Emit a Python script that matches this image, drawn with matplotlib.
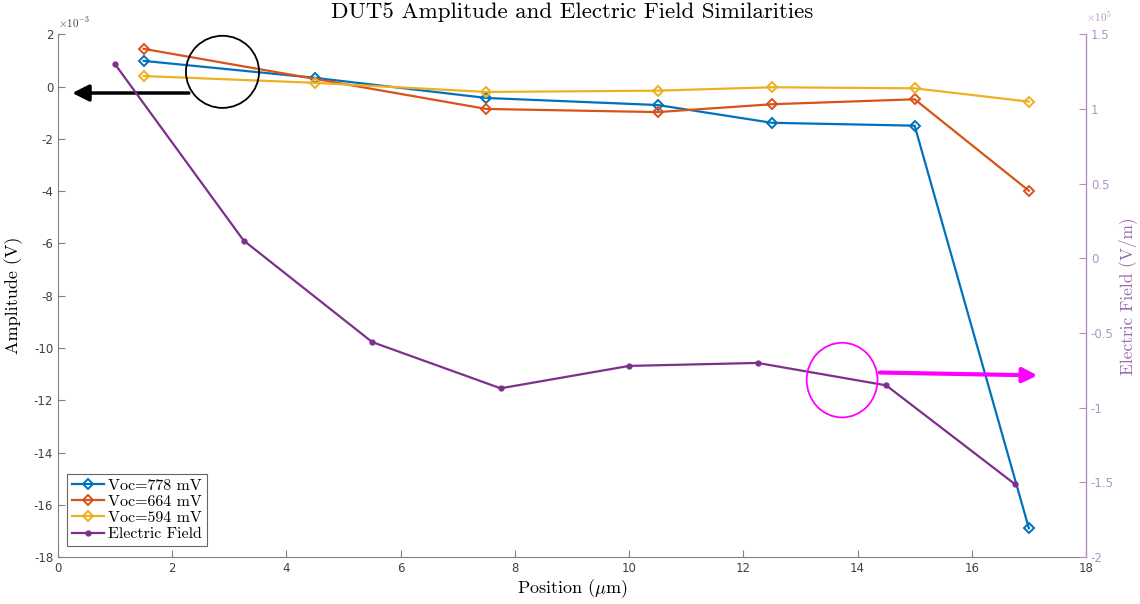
import numpy as np
import matplotlib.pyplot as plt
from matplotlib.patches import Ellipse

plt.rcParams['mathtext.fontset'] = 'cm'
plt.rcParams['axes.formatter.use_mathtext'] = True

# Amplitude (x1e-3 V)
pos_amp = [1.5, 4.5, 7.5, 10.5, 12.5, 15, 17]
amp_778 = [0.99, 0.34, -0.43, -0.70, -1.38, -1.49, -16.9]
pos_664 = [1.5, 7.5, 10.5, 12.5, 15, 17]
amp_664 = [1.45, -0.85, -0.97, -0.67, -0.48, -3.98]
amp_594 = [0.41, 0.15, -0.20, -0.15, -0.02, -0.06, -0.57]

# Electric field (x1e5 V/m)
pos_ef = [1.0, 3.25, 5.5, 7.75, 10.0, 12.25, 14.5, 16.75]
ef = [1.30, 0.12, -0.56, -0.87, -0.72, -0.70, -0.85, -1.51]

c_blue = '#0072BD'
c_orange = '#D95319'
c_yellow = '#EDB120'
c_purple = '#7E2F8E'
c_axis = '#808080'
c_raxis = '#B490C8'
serif = 'cmr10'

fig = plt.figure(figsize=(11.4, 6.04), dpi=100)
ax = fig.add_axes([0.0509, 0.0778, 0.9017, 0.8651])
ax2 = ax.twinx()

l1, = ax.plot(pos_amp, amp_778, '-D', color=c_blue, mfc='none', ms=5.5, mew=1.4, lw=1.6, label='Voc=778 mV')
l2, = ax.plot(pos_664, amp_664, '-D', color=c_orange, mfc='none', ms=5.5, mew=1.4, lw=1.6, label='Voc=664 mV')
l3, = ax.plot(pos_amp, amp_594, '-D', color=c_yellow, mfc='none', ms=5.5, mew=1.4, lw=1.6, label='Voc=594 mV')
l4, = ax2.plot(pos_ef, ef, '-o', color=c_purple, ms=3.5, lw=1.6, label='Electric Field')

ax.set_xlim(0, 18)
ax.set_ylim(-18, 2)
ax2.set_ylim(-2, 1.5)

xt = np.arange(0, 19, 2)
ax.set_xticks(xt)
ax.set_xticklabels([str(v) for v in xt])
yt = np.arange(-18, 3, 2)
ax.set_yticks(yt)
ax.set_yticklabels([str(v) for v in yt])
rt = np.arange(-2, 1.6, 0.5)
ax2.set_yticks(rt)
ax2.set_yticklabels(['%g' % v for v in rt])

for a in (ax, ax2):
    a.spines['top'].set_visible(False)
ax.spines['left'].set_color(c_axis)
ax.spines['bottom'].set_color(c_axis)
ax2.spines['right'].set_color(c_raxis)
ax2.spines['left'].set_visible(False)
ax2.spines['bottom'].set_visible(False)
ax.tick_params(direction='in', length=5, colors=c_axis, labelcolor='#404040', labelsize=8.5)
ax2.tick_params(direction='in', length=5, colors=c_raxis, labelcolor=c_raxis, labelsize=8.5)

ax.text(0.0, 1.008, r'$\times10^{-3}$', transform=ax.transAxes, fontsize=8, color='#404040', va='bottom', ha='left')
ax2.text(1.0, 1.02, r'$\times10^{5}$', transform=ax.transAxes, fontsize=8, color=c_raxis, va='bottom', ha='left')

ax.set_title('DUT5 Amplitude and Electric Field Similarities', family=serif, fontsize=16.5, pad=12)
ax.set_xlabel(r'Position ($\mu$m)', family=serif, fontsize=13, labelpad=2)
ax.set_ylabel('Amplitude (V)', family=serif, fontsize=13, labelpad=8)
ax2.set_ylabel('Electric Field (V/m)', family=serif, fontsize=12.5, color='#9A6AAE', labelpad=3)

# annotations
ax.add_patch(Ellipse((2.88, 0.57), 1.28, 2.76, fill=False, ec='black', lw=1.3, zorder=5))
ax.annotate('', xy=(0.2, -0.24), xytext=(2.34, -0.24),
            arrowprops=dict(arrowstyle='-|>', color='black', lw=2.5, mutation_scale=25))
ax2.add_patch(Ellipse((13.73, -0.815), 1.24, 0.5, fill=False, ec='#FF00FF', lw=1.3, zorder=5))
ax2.annotate('', xy=(17.2, -0.784), xytext=(14.34, -0.764),
             arrowprops=dict(arrowstyle='-|>', color='#FF00FF', lw=3, mutation_scale=22))

leg = ax.legend(handles=[l1, l2, l3, l4], loc='lower left', bbox_to_anchor=(0.004, 0.012),
                prop={'family': serif, 'size': 11.5}, frameon=True, fancybox=False,
                handlelength=2.0, handletextpad=0.3, borderpad=0.3, labelspacing=0.12,
                borderaxespad=0.3)
leg.get_frame().set_edgecolor('#404040')
leg.get_frame().set_linewidth(0.8)

fig.savefig('out.png', dpi=100)
